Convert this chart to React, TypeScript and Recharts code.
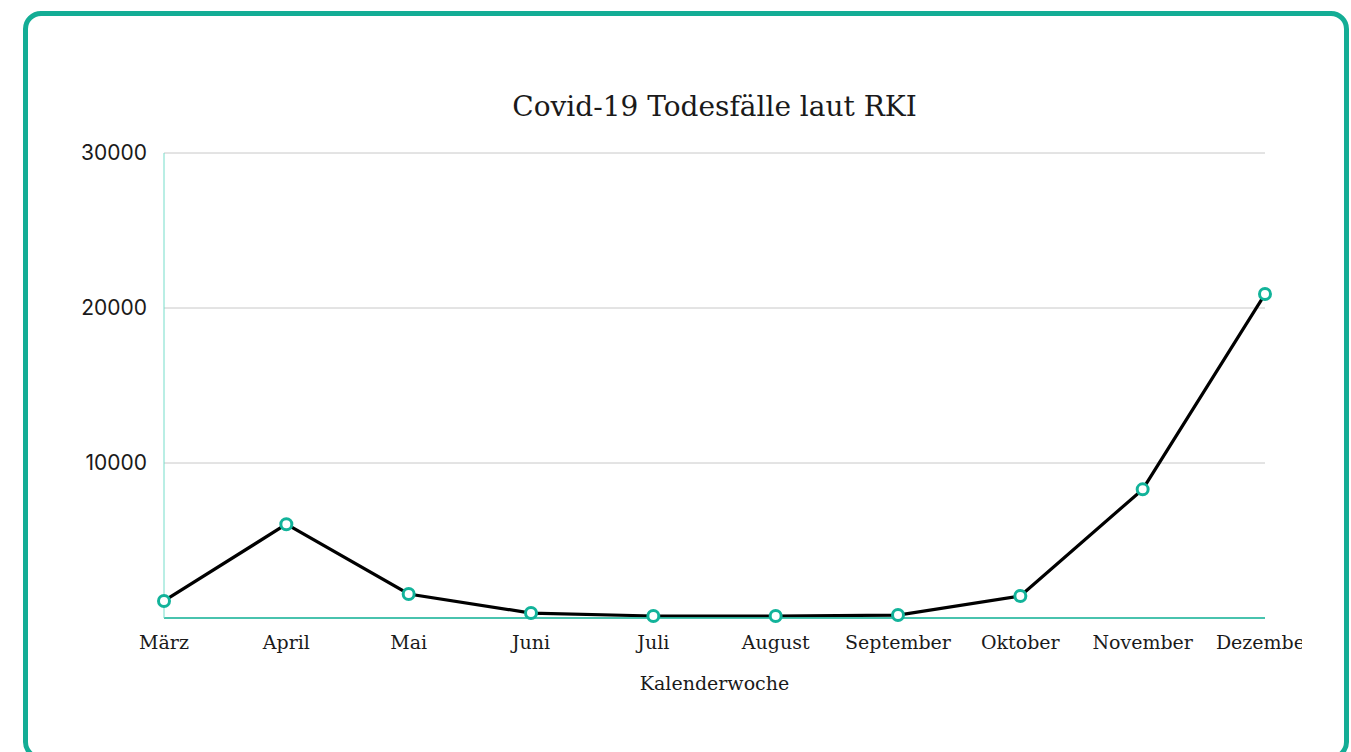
import { LineChart, Line, XAxis, YAxis, CartesianGrid } from 'recharts';

const months = ['März', 'April', 'Mai', 'Juni', 'Juli', 'August', 'September', 'Oktober', 'November', 'Dezember'];
const deaths = [1100, 6050, 1550, 320, 130, 130, 190, 1420, 8300, 20900];
const yTicks = [10000, 20000, 30000];

const data = months.map((m, i) => ({ month: m, deaths: deaths[i] }));

const slab = '"DejaVu Serif", serif';
const teal = '#14b89c';

export default function App() {
  return (
    <div style={{ position: 'fixed', left: 0, top: 0, width: 1351, height: 752, overflow: 'hidden', background: '#fff' }}>
      <div style={{
        position: 'absolute', left: 23, top: 11, width: 1316, height: 739,
        border: '5px solid #13ad95', borderRadius: 18,
      }} />
      <div style={{
        position: 'absolute', left: 0, width: 1429, top: 89, textAlign: 'center',
        fontFamily: slab, fontSize: 28, color: '#1a1a1a', lineHeight: '36px',
      }}>
        Covid-19 Todesfälle laut RKI
      </div>
      <div style={{ position: 'absolute', left: 40, top: 140 }}>
        <LineChart width={1262} height={570} data={data} margin={{ top: 13, right: 37, left: 24, bottom: 0 }}>
          <CartesianGrid vertical={false} stroke="#c8c8c8" />
          <XAxis
            dataKey="month"
            axisLine={{ stroke: teal, strokeWidth: 1.5 }}
            tickLine={false}
            tick={{ fill: '#1a1a1a', fontSize: 19, fontFamily: slab }}
            tickMargin={12}
            interval={0}
            height={92}
            label={{ value: 'Kalenderwoche', position: 'insideBottom', offset: 20, fill: '#1a1a1a', fontSize: 19, fontFamily: slab }}
          />
          <YAxis
            domain={[0, 30000]}
            ticks={yTicks}
            width={100}
            axisLine={{ stroke: '#74ddca' }}
            tickLine={false}
            tickMargin={11}
            tick={{ fill: '#1a1a1a', fontSize: 21, fontFamily: 'Inter, sans-serif' }}
          />
          <Line
            type="linear"
            dataKey="deaths"
            stroke="#000"
            strokeWidth={3.2}
            dot={{ r: 5.5, stroke: '#12b39a', strokeWidth: 3, fill: '#fff' }}
            isAnimationActive={false}
          />
        </LineChart>
      </div>
    </div>
  );
}
